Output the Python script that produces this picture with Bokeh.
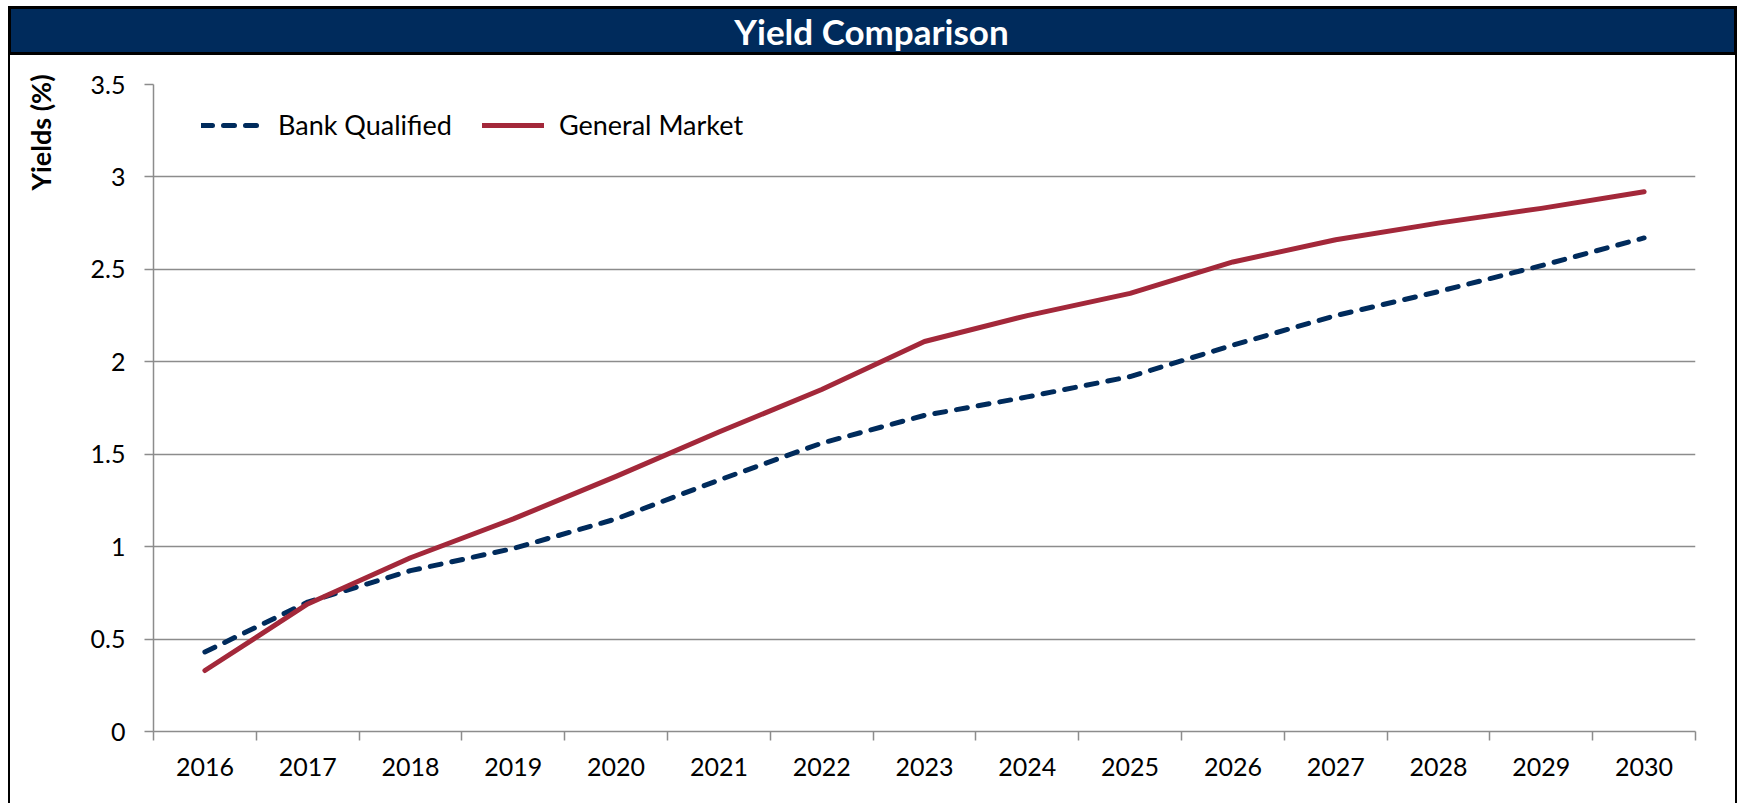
from math import pi
from bokeh.plotting import figure
from bokeh.layouts import column, row
from bokeh.models import (Label, Legend, LegendItem, FixedTicker, Spacer,
                          CustomJSTickFormatter, Range1d)
from bokeh.embed import file_html
from bokeh.resources import INLINE

# ---- data ----
years = ["2016", "2017", "2018", "2019", "2020", "2021", "2022", "2023",
         "2024", "2025", "2026", "2027", "2028", "2029", "2030"]
bank_qualified = [0.43, 0.70, 0.87, 0.99, 1.15, 1.36, 1.56, 1.71,
                  1.81, 1.92, 2.09, 2.25, 2.38, 2.52, 2.67]
general_market = [0.33, 0.69, 0.94, 1.15, 1.38, 1.62, 1.85, 2.11,
                  2.25, 2.37, 2.54, 2.66, 2.75, 2.83, 2.92]
y_ticks = [0, 0.5, 1, 1.5, 2, 2.5, 3, 3.5]
title_text = "Yield Comparison"
y_title = "Yields (%)"

NAVY = "#002B5C"
RED = "#A3283A"
GRID = "#8C8C8C"
FONT = "Lato"

xs = list(range(len(years)))

# ---- title bar (its own small figure) ----
TW, TH = 1729, 49
tf = figure(width=TW, height=TH, output_backend="svg", toolbar_location=None,
            x_axis_location=None, y_axis_location=None, title=None,
            x_range=Range1d(0, 1), y_range=Range1d(0, 1),
            min_border=0, margin=(6, 0, 0, 8))
tf.grid.visible = False
tf.background_fill_color = NAVY
tf.border_fill_color = NAVY
tf.outline_line_color = "black"
tf.outline_line_width = 5
tf.add_layout(Label(x=863, y=25, x_units="screen", y_units="screen",
                    text=title_text, text_align="center", text_baseline="middle",
                    text_color="white", text_font=FONT, text_font_style="bold",
                    text_font_size="35px"))

H = 748

# ---- y-axis title strip ----
YW = 60
yf = figure(width=YW, height=H, output_backend="svg", toolbar_location=None,
            x_axis_location=None, y_axis_location=None, title=None,
            x_range=Range1d(0, 1), y_range=Range1d(0, 1), min_border=0)
yf.grid.visible = False
yf.outline_line_color = None
yf.add_layout(Label(x=30, y=H - 77, x_units="screen", y_units="screen",
                    angle=pi / 2, text=y_title, text_align="center",
                    text_baseline="middle", text_color="black", text_font=FONT,
                    text_font_style="bold", text_font_size="27px"))

# ---- main chart ----
W = 1725 - YW
FL, FR, FT, FB = 143 - YW, W - 40, 29, 676  # frame edges in canvas px

p = figure(width=W, height=H, output_backend="svg", toolbar_location=None,
           title=None,
           x_range=Range1d(-0.5, len(years) - 0.5), y_range=Range1d(0, 3.5),
           min_border_left=FL, min_border_right=W - FR,
           min_border_top=FT, min_border_bottom=H - FB)
p.outline_line_color = None
p.background_fill_color = "white"
p.border_fill_color = "white"

p.xgrid.visible = False
p.ygrid.grid_line_color = GRID
p.ygrid.grid_line_width = 1.5

p.yaxis.ticker = FixedTicker(ticks=y_ticks)
p.yaxis.formatter = CustomJSTickFormatter(code="return String(tick)")
p.yaxis.axis_line_color = GRID
p.yaxis.axis_line_width = 1.5
p.yaxis.major_tick_line_color = GRID
p.yaxis.major_tick_line_width = 1.5
p.yaxis.major_tick_out = 9
p.yaxis.major_tick_in = 0
p.yaxis.minor_tick_line_color = None
p.yaxis.major_label_standoff = 19
p.yaxis.major_label_text_font = FONT
p.yaxis.major_label_text_font_size = "25px"
p.yaxis.major_label_text_color = "black"

p.xaxis.ticker = FixedTicker(ticks=xs, minor_ticks=[i - 0.5 for i in range(len(years) + 1)])
p.xaxis.major_label_overrides = {i: y for i, y in zip(xs, years)}
p.xaxis.axis_line_color = GRID
p.xaxis.axis_line_width = 1.5
p.xaxis.major_tick_line_color = None
p.xaxis.major_tick_out = 0
p.xaxis.major_tick_in = 0
p.xaxis.minor_tick_line_color = GRID
p.xaxis.minor_tick_line_width = 1.5
p.xaxis.minor_tick_out = 9
p.xaxis.minor_tick_in = 0
p.xaxis.major_label_standoff = 17
p.xaxis.major_label_text_font = FONT
p.xaxis.major_label_text_font_size = "25px"
p.xaxis.major_label_text_color = "black"

r_bq = p.line(xs, bank_qualified, line_color=NAVY, line_width=5,
              line_dash="11 11", line_cap="round", line_join="round")
r_gm = p.line(xs, general_market, line_color=RED, line_width=5,
              line_cap="round", line_join="round")

legend = Legend(items=[LegendItem(label="Bank Qualified", renderers=[r_bq]),
                       LegendItem(label="General Market", renderers=[r_gm])],
                orientation="horizontal", location=(48, 590),
                glyph_width=62, glyph_height=30, label_height=30,
                label_standoff=15, spacing=30, padding=0, margin=0,
                border_line_color=None, background_fill_alpha=0,
                label_text_font=FONT, label_text_font_size="27px",
                label_text_color="black")
p.add_layout(legend)

side_l = Spacer(width=2, height=H, styles={"background-color": "black"})
side_r = Spacer(width=2, height=H, styles={"background-color": "black"})
body = row(side_l, column(yf), p, side_r, spacing=0, margin=(0, 0, 0, 8))

layout = column(tf, body, spacing=0)
open("out.html", "w").write(file_html(layout, INLINE))
